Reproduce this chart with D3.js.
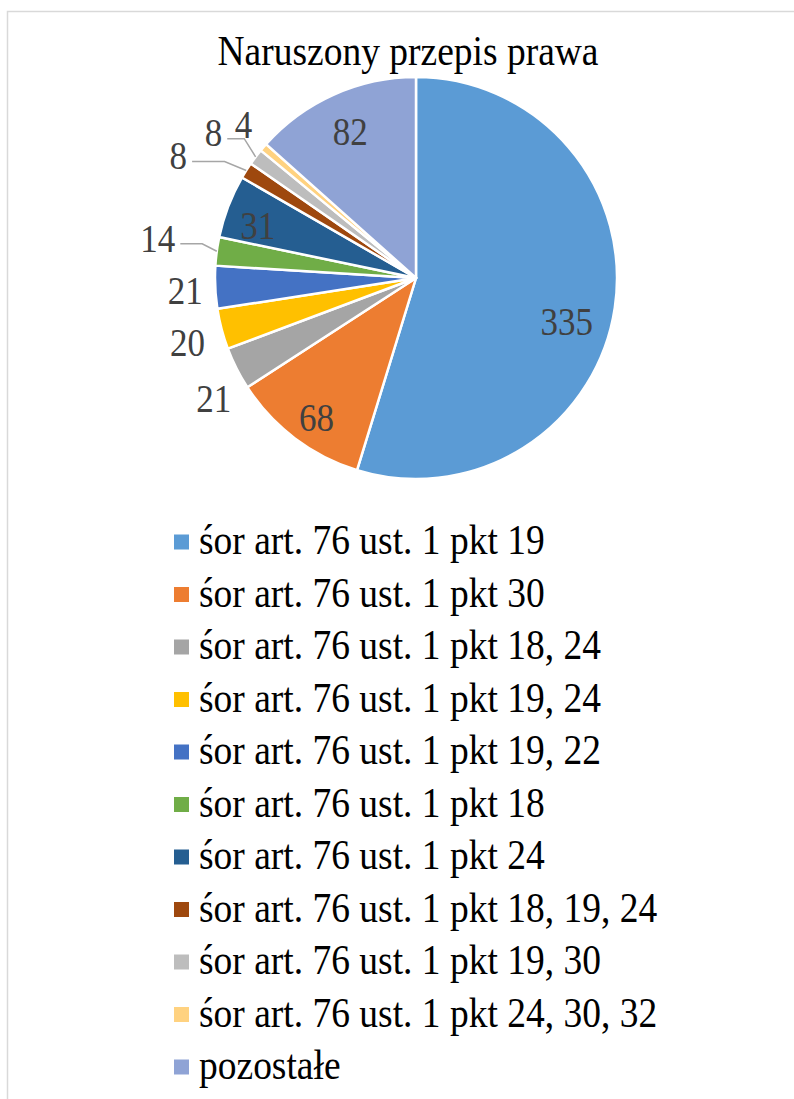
<!DOCTYPE html>
<html>
<head>
<meta charset="utf-8">
<script src="https://cdn.jsdelivr.net/npm/d3@7"></script>
<style>
  body { margin: 0; background: #fff; }
  text { font-family: 'Liberation Serif', 'Times New Roman', serif; }
</style>
</head>
<body>
<div id="chart"></div>
<script>
const title = 'Naruszony przepis prawa';
const categories = [
  'śor art. 76 ust. 1 pkt 19',
  'śor art. 76 ust. 1 pkt 30',
  'śor art. 76 ust. 1 pkt 18, 24',
  'śor art. 76 ust. 1 pkt 19, 24',
  'śor art. 76 ust. 1 pkt 19, 22',
  'śor art. 76 ust. 1 pkt 18',
  'śor art. 76 ust. 1 pkt 24',
  'śor art. 76 ust. 1 pkt 18, 19, 24',
  'śor art. 76 ust. 1 pkt 19, 30',
  'śor art. 76 ust. 1 pkt 24, 30, 32',
  'pozostałe'
];
const values = [335, 68, 21, 20, 21, 14, 31, 8, 8, 4, 82];
const colors = ['#5B9BD5', '#ED7D31', '#A5A5A5', '#FFC000', '#4472C4', '#70AD47',
  '#255E91', '#9E480E', '#BDBDBD', '#FFD280', '#8FA3D5'];

// label placement (angle shift in degrees, distance as share of radius), leader flag
const labelShift = [7.5, -1.4, -3.9, -0.9, -0.4, 1.2, -2.4, -5.1, -1.4, 1.1, 0];
const labelDist = [0.78, 0.85, 1.17, 1.18, 1.15, 1.30, 0.83, 1.33, 1.24, 1.15, 0.8];
const leader = [false, false, false, false, false, true, false, true, true, false, false];

const svgWidth = 794;
const svgHeight = 1099;
const cx = 416;
const cy = 278;
const radius = 201;
const stretch = 1.1; // text in the picture is a bit taller than wide

const svg = d3.select('#chart')
  .append('svg')
  .attr('width', svgWidth)
  .attr('height', svgHeight);

// outer frame
svg.append('rect')
  .attr('x', 7.5)
  .attr('y', 11.5)
  .attr('width', svgWidth + 20)
  .attr('height', svgHeight + 20)
  .attr('fill', 'none')
  .attr('stroke', '#D9D9D9')
  .attr('stroke-width', 1.5);

svg.append('text')
  .attr('transform', `translate(408,65) scale(1,${stretch})`)
  .attr('text-anchor', 'middle')
  .attr('font-size', 37.5)
  .attr('fill', '#000')
  .text(title);

const data = values.map((v, i) => ({ name: categories[i], value: v, i }));

const pie = d3.pie()
  .sort(null)
  .value(d => d.value);

const arcs = pie(data);

const arc = d3.arc()
  .innerRadius(0)
  .outerRadius(radius);

const g = svg.append('g')
  .attr('transform', `translate(${cx},${cy})`);

g.selectAll('path.slice')
  .data(arcs)
  .join('path')
    .attr('class', 'slice')
    .attr('d', arc)
    .attr('fill', d => colors[d.index])
    .attr('stroke', '#fff')
    .attr('stroke-width', 2.5)
    .attr('stroke-linejoin', 'round');

const polar = (angle, r) => [r * Math.sin(angle), -r * Math.cos(angle)];

const labelPos = arcs.map(d => {
  const mid = (d.startAngle + d.endAngle) / 2 + labelShift[d.index] * Math.PI / 180;
  return polar(mid, labelDist[d.index] * radius);
});

const labels = g.selectAll('text.lbl')
  .data(arcs)
  .join('text')
    .attr('class', 'lbl')
    .attr('transform', d => `translate(${labelPos[d.index][0]},${labelPos[d.index][1]}) scale(1,${stretch * 1.02})`)
    .attr('dy', '0.35em')
    .attr('text-anchor', 'middle')
    .attr('font-size', 35)
    .attr('fill', '#404040')
    .text(d => d.value);

// leader lines for the displaced labels
labels.each(function(d) {
  if (!leader[d.index]) return;
  const w = this.getComputedTextLength();
  const mid = (d.startAngle + d.endAngle) / 2;
  const edge = polar(mid, radius);
  const lx = labelPos[d.index][0] + w / 2 + 5;
  const ly = labelPos[d.index][1] + 6;
  const elbowX = lx + 0.6 * (edge[0] - lx);
  g.append('polyline')
    .attr('points', [[lx, ly], [elbowX, ly], edge].map(p => p.join(',')).join(' '))
    .attr('fill', 'none')
    .attr('stroke', '#A6A6A6')
    .attr('stroke-width', 1.5);
});

// legend
const legendY = d3.scalePoint()
  .domain(d3.range(categories.length))
  .range([542, 1067]);

const legend = svg.append('g')
  .selectAll('g')
  .data(data)
  .join('g')
    .attr('transform', d => `translate(174,${legendY(d.i)})`);

legend.append('rect')
  .attr('x', 0)
  .attr('y', -7.5)
  .attr('width', 15)
  .attr('height', 15)
  .attr('fill', d => colors[d.i]);

legend.append('text')
  .attr('transform', `translate(25,12) scale(1,${stretch})`)
  .attr('font-size', 37.5)
  .attr('fill', '#000')
  .text(d => d.name);
</script>
</body>
</html>
